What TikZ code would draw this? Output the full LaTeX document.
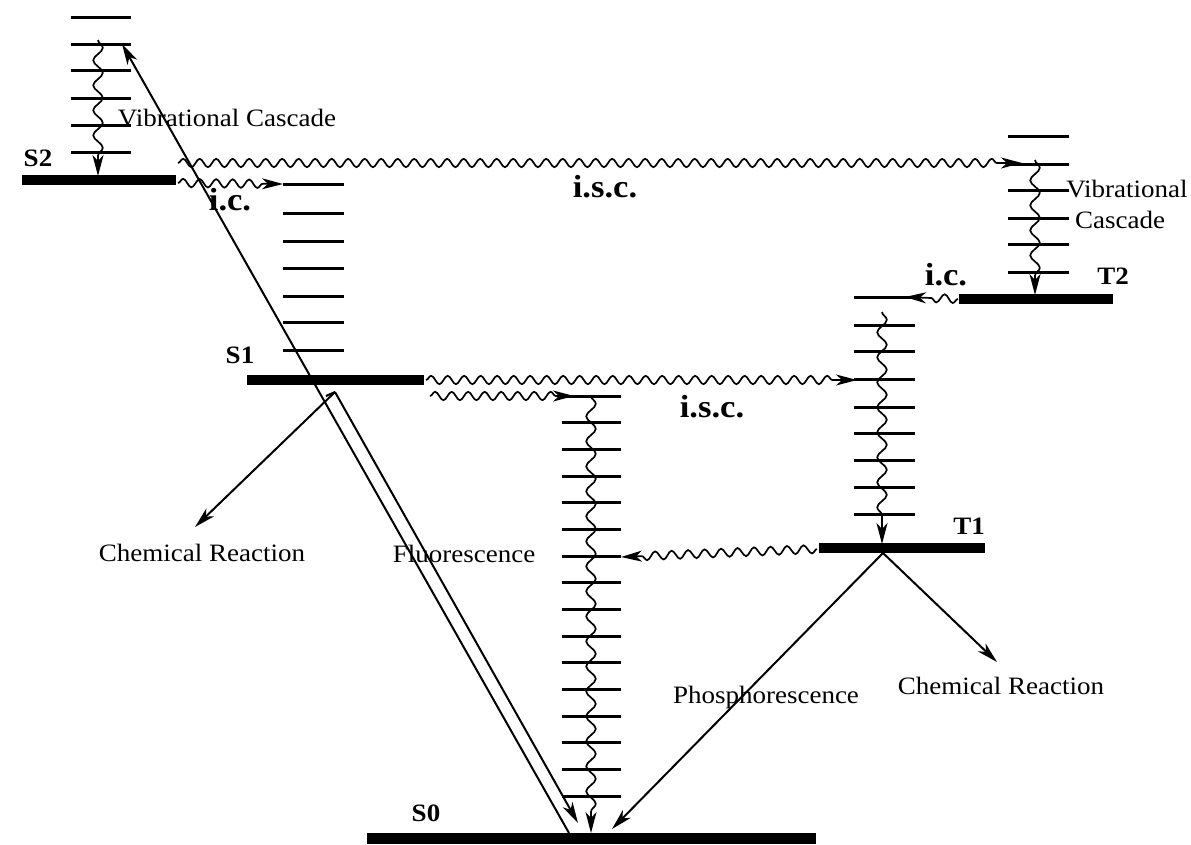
\documentclass[tikz,border=0pt]{standalone}
\usepackage{fontspec}
\setmainfont{Liberation Serif}
\newfontfamily\labfont[FakeStretch=1.08]{Liberation Serif}
\usetikzlibrary{decorations.pathmorphing,arrows.meta}
\tikzset{
  tipA/.tip={Stealth[length=21pt,width=11pt,inset=6pt]},
  level/.style={line width=3pt},
  bar/.style={line width=10.5pt},
  conn/.style={line width=2pt,-tipA},
  hwave/.style={line width=1.7pt,-tipA,decorate,
    decoration={snake,amplitude=4.2pt,segment length=16.5pt,post length=18pt}},
  vwave/.style={line width=1.7pt,-tipA,decorate,
    decoration={snake,amplitude=4.8pt,segment length=25pt,post length=18pt}},
  txt/.style={font=\labfont\fontsize{25}{28}\selectfont,inner sep=0pt},
  blab/.style={font=\labfont\bfseries\fontsize{25}{28}\selectfont,inner sep=0pt},
  proc/.style={font=\labfont\bfseries\fontsize{32}{36}\selectfont,inner sep=0pt}
}
\begin{document}
\begin{tikzpicture}[x=1pt,y=-1pt]
\useasboundingbox[fill=white] (0,0) rectangle (1191,844);

% ---- energy levels ----
% S2
\foreach \y in {17,44,70,98,125,152} \draw[level] (71,\y) -- (131,\y);
\draw[bar] (22,180) -- (176,180);
% S1
\foreach \y in {184,213,241,268,296,322,350} \draw[level] (283,\y) -- (344,\y);
\draw[bar] (247,380) -- (424,380);
% T2
\foreach \y in {136,164,190,218,244,272} \draw[level] (1008,\y) -- (1069,\y);
\draw[bar] (959,299) -- (1113,299);
% T1
\foreach \y in {297,325,351,379,407,433,460,487,514} \draw[level] (854,\y) -- (915,\y);
\draw[bar] (819,548) -- (985,548);
% S0 vibrational ladder
\foreach \k in {0,...,15} \draw[level] (562,396+26.67*\k) -- (621,396+26.67*\k);
\draw[line width=11pt] (367,838.5) -- (816,838.5);

% ---- named points ----
\coordinate (s0exc) at (569,833);
\coordinate (s2top) at (122,44);
\coordinate (flcap) at (326,396);
\coordinate (flA) at (335,392);
\coordinate (flB) at (578,823);
\coordinate (chLend) at (195,527);
\coordinate (t1c) at (883,553);
\coordinate (phosEnd) at (612,829);
\coordinate (chRend) at (997,662);
\coordinate (s2vA) at (98,40);
\coordinate (s2vB) at (98,176);
\coordinate (s2iscA) at (178,163);
\coordinate (s2iscB) at (1022,163);
\coordinate (s2icA) at (178,183);
\coordinate (s2icB) at (283,184);
\coordinate (t2vA) at (1035,160);
\coordinate (t2vB) at (1035,295);
\coordinate (t2icA) at (958,299);
\coordinate (t2icB) at (905,297);
\coordinate (t1vA) at (882,312);
\coordinate (t1vB) at (882,544);
\coordinate (s1iscA) at (426,380);
\coordinate (s1iscB) at (857,380);
\coordinate (s1lowA) at (430,396);
\coordinate (s1lowB) at (574,396);
\coordinate (fvA) at (591,396);
\coordinate (fvB) at (591,833);
\coordinate (t1fA) at (817,549);
\coordinate (t1fB) at (621,557);

% ---- straight connectors ----
\draw[conn] (s0exc) -- (s2top);
\draw[line width=2pt] (flcap) -- (flA);
\draw[conn] (flA) -- (flB);
\draw[conn] (flA) -- (chLend);
\draw[conn] (t1c) -- (phosEnd);
\draw[conn] (t1c) -- (chRend);

% ---- wavy connectors ----
\draw[vwave] (s2vA) -- (s2vB);
\draw[hwave] (s2iscA) -- (s2iscB);
\draw[hwave] (s2icA) -- (s2icB);
\draw[vwave] (t2vA) -- (t2vB);
\draw[hwave] (t2icA) -- (t2icB);
\draw[vwave] (t1vA) -- (t1vB);
\draw[hwave] (s1iscA) -- (s1iscB);
\draw[hwave] (s1lowA) -- (s1lowB);
\draw[vwave] (fvA) -- (fvB);
\draw[hwave] (t1fA) -- (t1fB);

% ---- labels ----
\node[blab] (lS2) at (38,158) {S2};
\node[blab] (lS1) at (240,355) {S1};
\node[blab] (lS0) at (426,813) {S0};
\node[blab] (lT1) at (969,526) {T1};
\node[blab] (lT2) at (1113,276) {T2};
\node[proc] (ic1) at (230,200) {i.c.};
\node[proc] (ic2) at (946,275) {i.c.};
\node[proc] (isc1) at (605,187) {i.s.c.};
\node[proc] (isc2) at (712,407) {i.s.c.};
\node[txt] (vc1) at (227,118) {Vibrational Cascade};
\node[txt] (vc2) at (1127,189) {Vibrational};
\node[txt] (vc3) at (1120,220) {Cascade};
\node[txt] (crL) at (202,553) {Chemical Reaction};
\node[txt] (crR) at (1001,686) {Chemical Reaction};
\node[txt] (fl) at (464,554) {Fluorescence};
\node[txt] (ph) at (766,697) {Phosphorescence};
\end{tikzpicture}
\end{document}
